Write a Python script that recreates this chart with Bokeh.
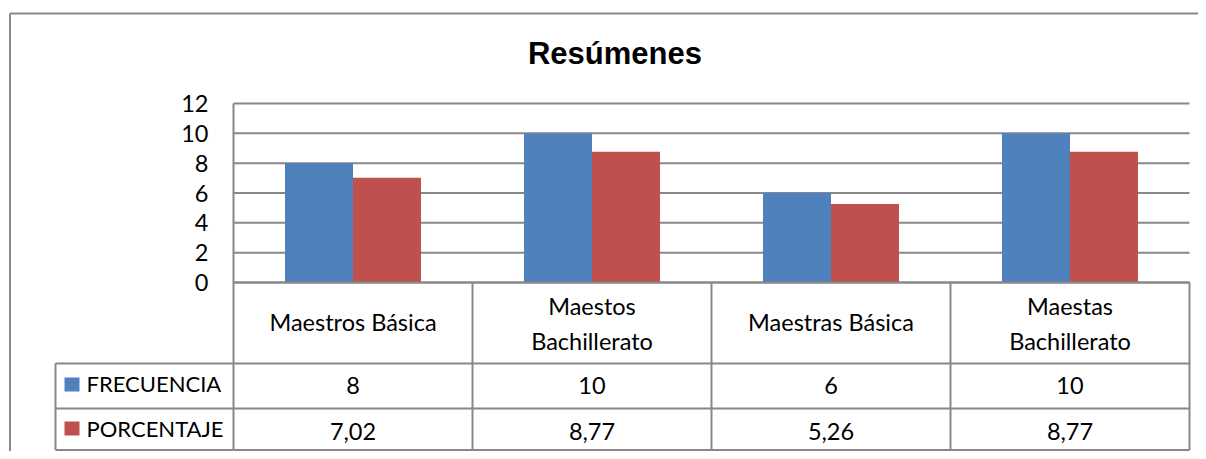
from bokeh.plotting import figure
from bokeh.models import Range1d
from bokeh.embed import file_html
from bokeh.resources import INLINE
from bokeh.core.properties import value

# ---------------- data ----------------
TITLE = "Resúmenes"
CATEGORIES = ["Maestros Básica", "Maestos\nBachillerato", "Maestras Básica", "Maestas\nBachillerato"]
SERIES = ["FRECUENCIA", "PORCENTAJE"]
FRECUENCIA = [8, 10, 6, 10]
PORCENTAJE = [7.02, 8.77, 5.26, 8.77]
Y_TICKS = [0, 2, 4, 6, 8, 10, 12]
COLORS = ["#4F81BD", "#C0504D"]

# ---------------- layout (page pixels) ----------------
W, H = 1198, 451
X0_PAGE = 233          # page x of data x = 0
COLW = 239             # px per category
Y0_PAGE = 282          # page y of value 0
Y12_PAGE = 103         # page y of value 12
PU = (Y0_PAGE - Y12_PAGE) / 12.0
ROW_LINES = [282, 363, 408, 449.5]
LEG_L = 55
GRID = "#888888"
FONT = "Lato"
FS = "23.5px"
FS_LEG = "22px"


def px(page_x):
    return (page_x - X0_PAGE) / COLW


def py(page_y):
    return -(page_y - Y0_PAGE) / PU


n = len(CATEGORIES)
p = figure(
    width=W, height=H, output_backend="svg", toolbar_location=None,
    x_range=Range1d(px(0), px(W)), y_range=Range1d(py(H), py(0)),
    x_axis_location=None, y_axis_location=None,
    min_border=0,
)
p.outline_line_color = None
p.background_fill_color = "white"
p.border_fill_color = "white"
p.xgrid.visible = False
p.ygrid.visible = False

LW = 2

# ---------------- gridlines (value axis) ----------------
p.segment(x0=[0] * len(Y_TICKS), y0=Y_TICKS, x1=[n] * len(Y_TICKS), y1=Y_TICKS,
          line_color=GRID, line_width=LW)

# value-axis tick labels
p.text(x=[px(208)] * len(Y_TICKS), y=Y_TICKS, text=[str(t) for t in Y_TICKS],
       text_align="right", text_baseline="middle",
       text_font=value(FONT), text_font_size=FS, text_color="black")

# ---------------- bars ----------------
BW = 0.2845
centers = [i + 0.5 for i in range(n)]
for k, (vals, col) in enumerate(zip([FRECUENCIA, PORCENTAJE], COLORS)):
    off = (k - 0.5) * BW
    p.vbar(x=[c + off for c in centers], top=vals, bottom=0, width=BW,
           fill_color=col, line_color=None)

# ---------------- data table lines ----------------
ybot = py(ROW_LINES[-1])
p.segment(x0=[0], y0=[ybot], x1=[0], y1=[max(Y_TICKS)], line_color=GRID, line_width=LW)
p.segment(x0=list(range(1, n + 1)), y0=[ybot] * n, x1=list(range(1, n + 1)), y1=[0] * n,
          line_color=GRID, line_width=LW)
p.segment(x0=[0] * len(ROW_LINES), y0=[py(r) for r in ROW_LINES],
          x1=[n] * len(ROW_LINES), y1=[py(r) for r in ROW_LINES],
          line_color=GRID, line_width=LW)
# legend column of the table
p.segment(x0=[px(LEG_L)] * 3, y0=[py(r) for r in ROW_LINES[1:]],
          x1=[0] * 3, y1=[py(r) for r in ROW_LINES[1:]], line_color=GRID, line_width=LW)
p.segment(x0=[px(LEG_L)], y0=[py(ROW_LINES[1])], x1=[px(LEG_L)], y1=[ybot],
          line_color=GRID, line_width=LW)

# ---------------- outer chart border ----------------
p.segment(x0=[px(9.5), px(9.5)], y0=[py(13), py(13)], x1=[px(9.5), px(W)], y1=[py(H), py(13)],
          line_color=GRID, line_width=LW)

# ---------------- category labels ----------------
tx, ty, tt = [], [], []
for i, cat in enumerate(CATEGORIES):
    lines = cat.split("\n")
    mids = [321.5] if len(lines) == 1 else [305.8, 340.0]
    for ln, m in zip(lines, mids):
        tx.append(centers[i]); ty.append(py(m)); tt.append(ln)
p.text(x=tx, y=ty, text=tt, text_align="center", text_baseline="middle",
       text_font=value(FONT), text_font_size=FS, text_color="black")

# ---------------- value rows ----------------
def fmt(v):
    if float(v).is_integer():
        return str(int(v))
    return f"{v:.2f}".replace(".", ",")

row_mids = [385.3, 430.8]
for vals, m in zip([FRECUENCIA, PORCENTAJE], row_mids):
    p.text(x=centers, y=[py(m)] * n, text=[fmt(v) for v in vals],
           text_align="center", text_baseline="middle",
           text_font=value(FONT), text_font_size=FS, text_color="black")

# ---------------- legend keys ----------------
leg_sq = [(377, 391), (421, 435)]
leg_mid = [382.5, 428.0]
for name, col, (t, b), m in zip(SERIES, COLORS, leg_sq, leg_mid):
    p.quad(left=[px(64)], right=[px(79)], top=[py(t)], bottom=[py(b)],
           fill_color=col, line_color=None)
    p.text(x=[px(86)], y=[py(m)], text=[name], text_align="left",
           text_baseline="middle", text_font=value(FONT), text_font_size=FS_LEG,
           text_color="black")

# ---------------- title ----------------
p.text(x=[px(614.5)], y=[py(53)], text=[TITLE], text_align="center",
       text_baseline="middle", text_font=value("Liberation Sans"),
       text_font_style="bold", text_font_size="31px", text_color="black")

open("out.html", "w").write(file_html(p, INLINE))
